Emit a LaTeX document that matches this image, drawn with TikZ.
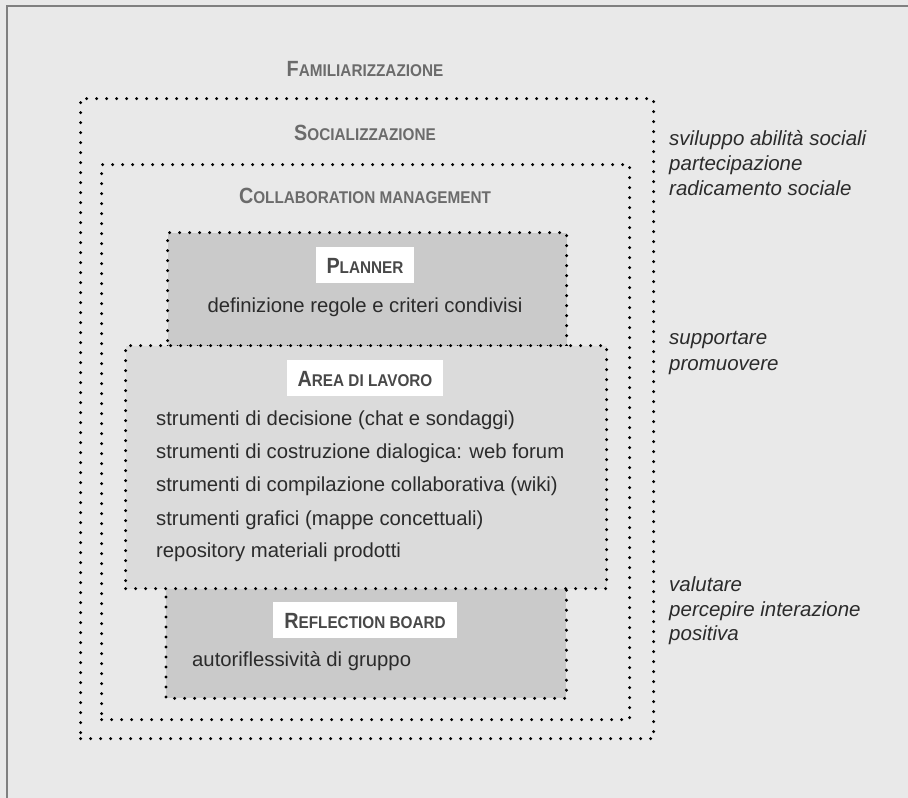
\documentclass[tikz,border=0pt]{standalone}
\usepackage{fontspec}
\setmainfont{Liberation Sans}
\newfontfamily\headfont[FakeStretch=0.9]{Liberation Sans}
\usepackage{xcolor}
\definecolor{paper}{HTML}{E9E9E9}
\definecolor{frameline}{HTML}{808080}
\definecolor{darkzone}{HTML}{CACACA}
\definecolor{lightzone}{HTML}{DBDBDB}
\definecolor{phasetext}{HTML}{6B6B6B}
\definecolor{tagtext}{HTML}{484848}
\definecolor{bodytext}{HTML}{2B2B2B}
\newcommand{\fsc}[2]{{\fontsize{22}{24}\selectfont #1}{\fontsize{17}{20}\selectfont #2}}
\tikzset{%
% Specifications for style of zones and texts:
dotline/.style = {line width=3.3pt, dash pattern=on 0pt off 10pt, line cap=round},
zone/.style = {rectangle, inner sep=0pt, anchor=north west},
phase/.style = {font=\headfont\bfseries, text=phasetext, anchor=base, inner sep=0pt},
tag/.style = {fill=white, font=\headfont\bfseries, text=tagtext, inner xsep=11pt, inner ysep=0pt,
  minimum height=36pt, text height=16pt, text depth=0pt},
tool/.style = {font=\fontsize{20.3}{24}\selectfont, text=bodytext, anchor=base west, inner sep=0pt},
aim/.style = {tool, font=\fontsize{20.5}{24}\selectfont\itshape},
}

\begin{document}
\begin{tikzpicture}[x=1pt, y=-1pt]
        % Background and frame
        \useasboundingbox (0,0) rectangle (908,798);
        \fill[paper] (0,0) rectangle (908,798);
        \draw[frameline, line width=2.5pt] (7,798) -- (7,6) -- (908,6);

        % Nested zones
        \node (fam) [zone, draw, dotline, minimum width=573, minimum height=640] at (79,97) {};
        \node (soc) [zone, draw, dotline, minimum width=528, minimum height=555] at (100,163) {};
        \node (planner) [zone, draw, dotline, fill=darkzone, minimum width=399, minimum height=114] at (166,231) {};
        \node (reflection) [zone, fill=darkzone, minimum width=400, minimum height=111] at (166,587) {};
        \draw[dotline] (reflection.north west) -- (reflection.south west) -- (reflection.south east) -- (reflection.north east);
        \node (area) [zone, draw, dotline, fill=lightzone, minimum width=481, minimum height=243] at (124,344) {};

        % Titles
        \node (famTitle) [phase] at (365,76) {\fsc{F}{AMILIARIZZAZIONE}};
        \node (socTitle) [phase] at (365,140) {\fsc{S}{OCIALIZZAZIONE}};
        \node (collTitle) [phase] at (365,203) {\fsc{C}{OLLABORATION MANAGEMENT}};
        \node (plannerTag) [tag] at (365,265) {\fsc{P}{LANNER}};
        \node (areaTag) [tag] at (365,378) {\fsc{A}{REA DI LAVORO}};
        \node (reflectionTag) [tag] at (365,620) {\fsc{R}{EFLECTION BOARD}};

        % Tools
        \node (rules) [tool, anchor=base] at (365,312) {definizione regole e criteri condivisi};
        \node (decision) [tool] at (156,425) {strumenti di decisione (chat e sondaggi)};
        \node (dialogue) [tool] at (156,458) {strumenti di costruzione dialogica: web forum};
        \node (wiki) [tool] at (156,491) {strumenti di compilazione collaborativa (wiki)};
        \node (maps) [tool] at (156,525) {strumenti grafici (mappe concettuali)};
        \node (repository) [tool] at (156,557) {repository materiali prodotti};
        \node (selfReflection) [tool] at (192,666) {autoriflessività di gruppo};

        % Aims
        \node (skills) [aim] at (669,145) {sviluppo abilità sociali};
        \node (participation) [aim] at (669,170) {partecipazione};
        \node (rooting) [aim] at (669,195) {radicamento sociale};
        \node (support) [aim] at (669,344) {supportare};
        \node (promote) [aim] at (669,370) {promuovere};
        \node (evaluate) [aim] at (669,591) {valutare};
        \node (perceive) [aim] at (669,616) {percepire interazione};
        \node (positive) [aim] at (669,640) {positiva};
\end{tikzpicture}
\end{document}
